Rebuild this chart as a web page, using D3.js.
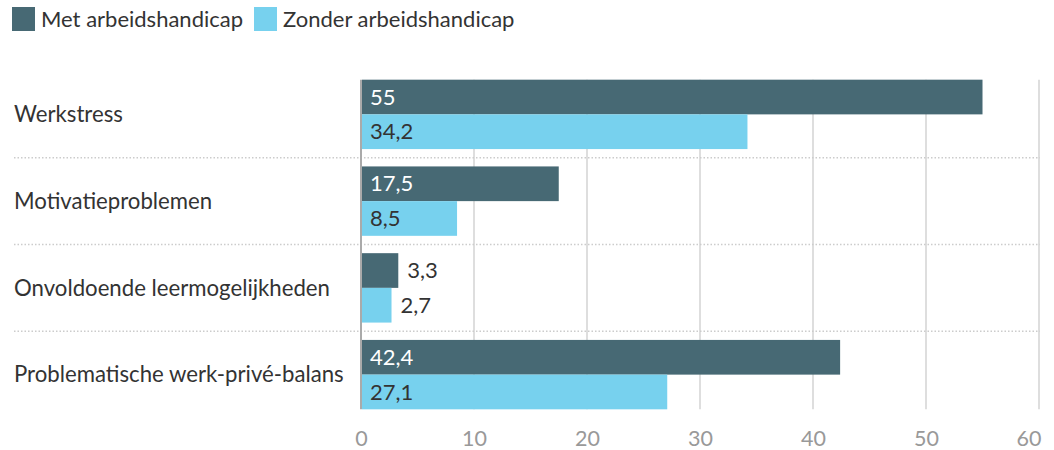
<!DOCTYPE html>
<html>
<head>
<meta charset="utf-8">
<script src="https://cdn.jsdelivr.net/npm/d3@7"></script>
<style>
  body { margin: 0; background: #fff; font-family: Lato, sans-serif; }
</style>
</head>
<body>
<svg id="chart" width="1054" height="450"></svg>
<script>
const categories = ['Werkstress', 'Motivatieproblemen', 'Onvoldoende leermogelijkheden', 'Problematische werk-privé-balans'];
const seriesNames = ['Met arbeidshandicap', 'Zonder arbeidshandicap'];
const metValues = [55, 17.5, 3.3, 42.4];
const zonderValues = [34.2, 8.5, 2.7, 27.1];
const xTicks = [0, 10, 20, 30, 40, 50, 60];

const colors = ['#476974', '#77d1ee'];
const textColors = ['#ffffff', '#333333'];

const svg = d3.select('#chart');
const margin = { top: 71, right: 14, bottom: 32, left: 361 };

const x = d3.scaleLinear().domain([0, 60]).range([margin.left, 1039]);
const y = d3.scaleBand().domain(categories).range([margin.top, 418]).paddingInner(0.2).paddingOuter(0.1);
const ySub = d3.scaleBand().domain([0, 1]).range([0, y.bandwidth()]);

const fmt = v => String(v).replace('.', ',');

// Legend
const legend = svg.append('g');
const legendX = [12, 254];
seriesNames.forEach((name, i) => {
  const g = legend.append('g').attr('transform', `translate(${legendX[i]},7)`);
  g.append('rect').attr('width', 23).attr('height', 24).attr('fill', colors[i]);
  g.append('text').attr('x', 29).attr('y', 20)
    .attr('font-size', 22).attr('fill', '#333').text(name);
});

// Vertical grid lines
const gridTop = y(categories[0]);
const gridBottom = y(categories[categories.length - 1]) + y.bandwidth();
svg.append('g').selectAll('line').data(xTicks.slice(1)).enter().append('line')
  .attr('x1', d => x(d)).attr('x2', d => x(d))
  .attr('y1', gridTop).attr('y2', gridBottom)
  .attr('stroke', '#dedede').attr('stroke-width', 2);

// Dotted separators between categories
const step = y.step();
svg.append('g').selectAll('line').data(categories.slice(1)).enter().append('line')
  .attr('x1', 14).attr('x2', 1040)
  .attr('y1', d => y(d) - step * y.paddingInner() / 2)
  .attr('y2', d => y(d) - step * y.paddingInner() / 2)
  .attr('stroke', '#cccccc').attr('stroke-width', 1.5).attr('stroke-dasharray', '1.5,2');

// Bars
const rows = [];
categories.forEach((c, ci) => {
  [metValues[ci], zonderValues[ci]].forEach((v, si) => rows.push({ c, si, v }));
});

svg.append('g').selectAll('rect').data(rows).enter().append('rect')
  .attr('x', x(0) + 1)
  .attr('y', d => y(d.c) + ySub(d.si))
  .attr('width', d => x(d.v) - x(0) - 1)
  .attr('height', ySub.bandwidth())
  .attr('fill', d => colors[d.si]);

// Value labels
svg.append('g').selectAll('text').data(rows).enter().append('text')
  .attr('x', d => d.v < 8 ? x(d.v) + 9 : x(0) + 9)
  .attr('y', d => y(d.c) + ySub(d.si) + ySub.bandwidth() / 2)
  .attr('dy', '0.35em')
  .attr('font-size', 22)
  .attr('fill', d => d.v < 8 ? '#333' : textColors[d.si])
  .text(d => fmt(d.v));

// Zero axis line
svg.append('line')
  .attr('x1', x(0)).attr('x2', x(0))
  .attr('y1', gridTop).attr('y2', gridBottom)
  .attr('stroke', '#aaaaaa').attr('stroke-width', 2);

// Category labels
svg.append('g').selectAll('text').data(categories).enter().append('text')
  .attr('x', 14)
  .attr('y', d => y(d) + y.bandwidth() / 2)
  .attr('dy', '0.35em')
  .attr('font-size', 22.2)
  .attr('fill', '#333')
  .text(d => d);

// X axis
const xAxis = svg.append('g')
  .attr('transform', `translate(0,${gridBottom + 18})`)
  .call(d3.axisBottom(x).tickValues(xTicks).tickSize(0).tickFormat(d => d));
xAxis.select('.domain').remove();
xAxis.selectAll('text')
  .attr('font-family', 'Lato, sans-serif')
  .attr('font-size', 21.5)
  .attr('fill', '#999');
xAxis.selectAll('.tick').filter(d => d === 60).select('text')
  .attr('text-anchor', 'end').attr('x', 2);
</script>
</body>
</html>
